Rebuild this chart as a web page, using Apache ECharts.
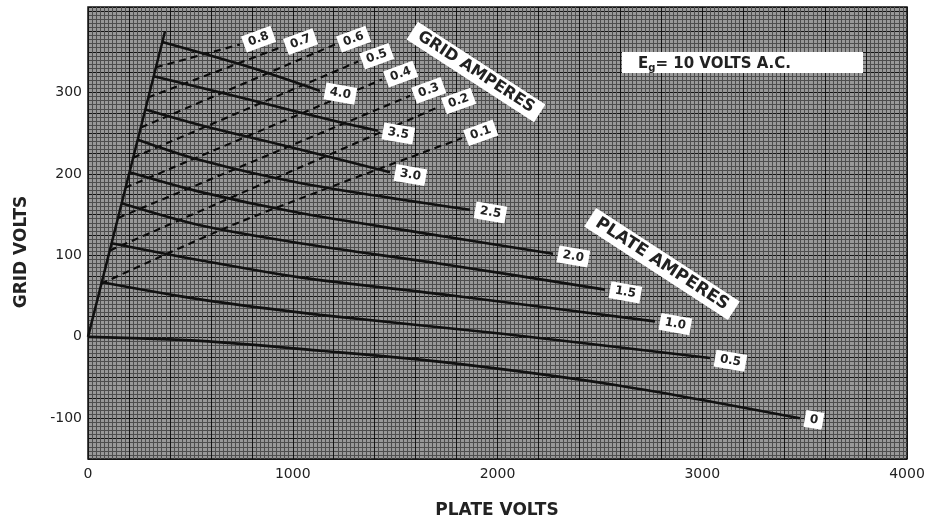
<!DOCTYPE html>
<html><head><meta charset="utf-8">
<script src="https://cdn.jsdelivr.net/npm/echarts@6/dist/echarts.min.js"></script>
<style>html,body{margin:0;padding:0;background:#fff}#c{width:928px;height:525px}</style>
</head><body><div id="c"></div>
<script>
// Tick labels
const xTickLabels = [0, 1000, 2000, 3000, 4000];
const yTickLabels = [-100, 0, 100, 200, 300];

// Diode / envelope line (plate volts, grid volts)
const envelope = [[0, 0], [376, 375]];

// Constant plate-current curves (PLATE AMPERES)
const plateNames = ['0', '0.5', '1.0', '1.5', '2.0', '2.5', '3.0', '3.5', '4.0'];
const plate_0   = [[0, 0], [547, -5], [1133, -17], [1768, -32], [2598, -60], [3477, -100]];
const plate_0_5 = [[67, 67], [547, 46], [1133, 27], [2012, 4], [3038, -26]];
const plate_1_0 = [[115, 115], [547, 94], [1035, 73], [1768, 51], [2769, 19]];
const plate_1_5 = [[164, 164], [547, 137], [1035, 115], [1768, 88], [2525, 58]];
const plate_2_0 = [[203, 202], [547, 178], [1035, 152], [1621, 128], [2271, 102]];
const plate_2_5 = [[243, 242], [547, 217], [1035, 189], [1866, 156]];
const plate_3_0 = [[280, 279], [547, 260], [1035, 230], [1475, 202]];
const plate_3_5 = [[321, 320], [791, 291], [1221, 264], [1416, 253]];
const plate_4_0 = [[363, 362], [791, 331], [1133, 302]];
const plateSeries = [plate_0, plate_0_5, plate_1_0, plate_1_5, plate_2_0, plate_2_5, plate_3_0, plate_3_5, plate_4_0];

// Constant grid-current curves (GRID AMPERES), dashed
const gridNames = ['0.1', '0.2', '0.3', '0.4', '0.5', '0.6', '0.7', '0.8'];
const grid_0_1 = [[63, 65], [742, 141], [1827, 244]];
const grid_0_2 = [[107, 106], [1719, 283]];
const grid_0_3 = [[147, 146], [1573, 296]];
const grid_0_4 = [[181, 183], [1436, 316]];
const grid_0_5 = [[220, 220], [1319, 338]];
const grid_0_6 = [[259, 257], [1206, 359]];
const grid_0_7 = [[293, 294], [947, 356]];
const grid_0_8 = [[332, 331], [742, 359]];
const gridSeries = [grid_0_1, grid_0_2, grid_0_3, grid_0_4, grid_0_5, grid_0_6, grid_0_7, grid_0_8];

const FONT = '"DejaVu Sans", "Liberation Sans", sans-serif';
const chart = echarts.init(document.getElementById('c'), null, {renderer: 'canvas'});

const series = [];
series.push({
  type: 'line', name: 'envelope', data: envelope, symbol: 'none', silent: true,
  lineStyle: {color: '#111', width: 2.5}, z: 5
});
plateSeries.forEach((d, i) => {
  series.push({
    type: 'line', name: plateNames[i], data: d, symbol: 'none', smooth: 0.3, silent: true,
    lineStyle: {color: '#111', width: 2.6}, z: 5,
    endLabel: {
      show: true, formatter: plateNames[i], distance: 5, rotate: -10,
      backgroundColor: '#fff', padding: [3, 5, 2, 5], color: '#222',
      fontFamily: FONT, fontSize: 12, fontWeight: 'bold'
    }
  });
});
gridSeries.forEach((d, i) => {
  series.push({
    type: 'line', name: 'g' + gridNames[i], data: d, symbol: 'none', smooth: 0.3, silent: true,
    lineStyle: {color: '#0a0a0a', width: 2.1, type: [7, 5]}, z: 4,
    endLabel: {
      show: true, formatter: gridNames[i], distance: 4, rotate: 20,
      backgroundColor: '#fff', padding: [3, 5, 2, 5], color: '#222',
      fontFamily: FONT, fontSize: 12, fontWeight: 'bold'
    }
  });
});

chart.setOption({
  animation: false,
  backgroundColor: '#fff',
  grid: {left: 88, right: 21, top: 7, bottom: 66, show: true, backgroundColor: '#999999', borderColor: '#111', borderWidth: 1.5},
  xAxis: {
    type: 'value', min: 0, max: 4000, interval: 200,
    axisLine: {show: false}, axisTick: {show: false},
    axisLabel: {
      formatter: v => (xTickLabels.indexOf(v) >= 0 ? String(v) : ''),
      fontFamily: FONT, fontSize: 14, color: '#222', margin: 8, showMaxLabel: true
    },
    splitLine: {show: true, lineStyle: {color: '#151515', width: 1}},
    minorTick: {show: false, splitNumber: 10},
    minorSplitLine: {show: true, lineStyle: {color: '#4e4e4e', width: 1}}
  },
  yAxis: {
    type: 'value', min: -150, max: 405, interval: 25,
    axisLine: {show: false}, axisTick: {show: false},
    axisLabel: {
      formatter: v => (yTickLabels.indexOf(v) >= 0 ? String(v) : ''),
      fontFamily: FONT, fontSize: 14, color: '#222', margin: 6
    },
    splitLine: {show: true, lineStyle: {color: '#151515', width: 1}},
    minorTick: {show: false, splitNumber: 5},
    minorSplitLine: {show: true, lineStyle: {color: '#4e4e4e', width: 1}}
  },
  series: series,
  graphic: [
    {type: 'rect', z: 100, shape: {x: 622, y: 52, width: 241, height: 21}, style: {fill: '#ffffff'}},
    {type: 'text', z: 101, x: 638, y: 55, style: {
      text: '{e|E}{s|g}{e|= 10 VOLTS A.C.}',
      rich: {
        e: {fontFamily: FONT, fontSize: 15, fontWeight: 'bold', fill: '#222'},
        s: {fontFamily: FONT, fontSize: 10, fontWeight: 'bold', fill: '#222', padding: [8, 0, 0, 0]}
      }
    }},
    {
      type: 'text', x: 476, y: 72, rotation: -33 * Math.PI / 180, z: 100,
      style: {
        text: 'GRID AMPERES', fontFamily: FONT, fontSize: 16, fontWeight: 'bold', fill: '#222',
        backgroundColor: '#fff', padding: [3, 8, 2, 8], align: 'center', verticalAlign: 'middle'
      }
    },
    {
      type: 'text', x: 662, y: 264, rotation: -33 * Math.PI / 180, z: 100,
      style: {
        text: 'PLATE AMPERES', fontFamily: FONT, fontSize: 17, fontWeight: 'bold', fill: '#222',
        backgroundColor: '#fff', padding: [3, 8, 2, 8], align: 'center', verticalAlign: 'middle'
      }
    },
    {
      type: 'text', x: 22, y: 252, rotation: Math.PI / 2, z: 100,
      style: {
        text: 'GRID VOLTS', fontFamily: FONT, fontSize: 17, fontWeight: 'bold', fill: '#222',
        align: 'center', verticalAlign: 'middle'
      }
    },
    {
      type: 'text', x: 497, y: 511, z: 100,
      style: {
        text: 'PLATE VOLTS', fontFamily: FONT, fontSize: 17, fontWeight: 'bold', fill: '#222',
        align: 'center', verticalAlign: 'middle'
      }
    }
  ]
});
</script>
</body></html>
